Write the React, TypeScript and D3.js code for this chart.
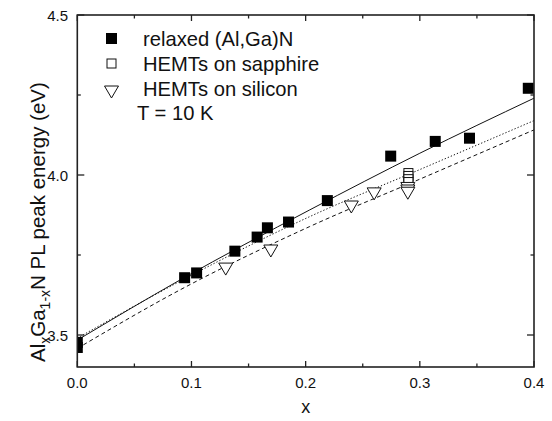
import React from "react";
import * as d3 from "d3";

const relaxedX = [0, 0, 0.094, 0.1045, 0.138, 0.1575, 0.1665, 0.185, 0.219, 0.2745, 0.3135, 0.3435, 0.395];
const relaxedE = [3.477, 3.461, 3.679, 3.694, 3.762, 3.806, 3.835, 3.853, 3.92, 4.059, 4.105, 4.115, 4.271];
const sapphireX = [0.29, 0.29, 0.29, 0.29];
const sapphireE = [4.006, 3.997, 3.987, 3.978];
const siliconX = [0.13, 0.1695, 0.24, 0.26, 0.2895, 0.2895, 0.2895];
const siliconE = [3.706, 3.7625, 3.9, 3.941, 3.958, 3.95, 3.943];

const fitX = [0, 0.09, 0.2036, 0.3, 0.4];
const fitSolid = [3.484, 3.672, 3.891, 4.068, 4.24];
const fitDotted = [3.49, 3.668, 3.87, 4.017, 4.17];
const fitDashed = [3.458, 3.641, 3.839, 3.987, 4.141];

const xMajor = [0, 0.1, 0.2, 0.3, 0.4];
const xMinor = [0.05, 0.15, 0.25, 0.35];
const yMajor = [3.5, 4.0, 4.5];
const yMinor = [3.75, 4.25];

const legendLabels = ["relaxed (Al,Ga)N", "HEMTs on sapphire", "HEMTs on silicon"];
const tempLabel = "T = 10 K";

export default function App() {
  const L = 77.3, R = 534, T = 15, B = 367;
  const x = d3.scaleLinear().domain([0, 0.4]).range([L, R]);
  const y = d3.scaleLinear().domain([3.4, 4.5]).range([B, T]);
  const line = d3
    .line<number>()
    .x((_, i) => x(fitX[i]))
    .y((d) => y(d))
    .curve(d3.curveMonotoneX);
  const font = "'Liberation Sans', Arial, sans-serif";
  const ink = "#111";
  const tri = (cx: number, cy: number) =>
    `M${cx - 7},${cy - 6}L${cx + 7},${cy - 6}L${cx},${cy + 6}Z`;
  const fmt = d3.format(".1f");

  return (
    <svg
      width={552}
      height={421}
      style={{ position: "absolute", left: 0, top: 0, background: "#fff" }}
      fontFamily={font}
    >
      <defs>
        <clipPath id="plot">
          <rect x={L} y={T} width={R - L} height={B - T} />
        </clipPath>
      </defs>
      <rect width={552} height={421} fill="#fff" />
      <g clipPath="url(#plot)">
        <path d={line(fitSolid) || ""} fill="none" stroke={ink} strokeWidth={1} />
        <path d={line(fitDotted) || ""} fill="none" stroke={ink} strokeWidth={1} strokeDasharray="1.3 2" />
        <path d={line(fitDashed) || ""} fill="none" stroke={ink} strokeWidth={1} strokeDasharray="4 3" />
        {relaxedX.map((v, i) => (
          <rect key={"r" + i} x={x(v) - 5.5} y={y(relaxedE[i]) - 5.5} width={11} height={11} fill="#000" />
        ))}
        {sapphireX.map((v, i) => (
          <rect key={"s" + i} x={x(v) - 4.5} y={y(sapphireE[i]) - 4.5} width={9} height={9} fill="#fff" stroke={ink} strokeWidth={1} />
        ))}
        {siliconX.map((v, i) => (
          <path key={"t" + i} d={tri(x(v), y(siliconE[i]))} fill="#fff" stroke={ink} strokeWidth={1} />
        ))}
      </g>
      <rect x={L} y={T} width={R - L} height={B - T} fill="none" stroke="#222" strokeWidth={1.6} />
      {xMajor.map((v) => (
        <g key={"xm" + v}>
          <line x1={x(v)} x2={x(v)} y1={B} y2={B - 6} stroke="#222" strokeWidth={1.3} />
          <line x1={x(v)} x2={x(v)} y1={T} y2={T + 6} stroke="#222" strokeWidth={1.3} />
          <text x={x(v)} y={388} textAnchor="middle" fontSize={15} fill={ink}>
            {fmt(v)}
          </text>
        </g>
      ))}
      {xMinor.map((v) => (
        <g key={"xn" + v}>
          <line x1={x(v)} x2={x(v)} y1={B} y2={B - 3.5} stroke="#222" strokeWidth={1.3} />
          <line x1={x(v)} x2={x(v)} y1={T} y2={T + 3.5} stroke="#222" strokeWidth={1.3} />
        </g>
      ))}
      {yMajor.map((v) => (
        <g key={"ym" + v}>
          <line x1={L} x2={L + 7} y1={y(v)} y2={y(v)} stroke="#222" strokeWidth={1.3} />
          <line x1={R} x2={R - 7} y1={y(v)} y2={y(v)} stroke="#222" strokeWidth={1.3} />
          <text x={68} y={y(v) + 5.5} textAnchor="end" fontSize={15} fill={ink}>
            {fmt(v)}
          </text>
        </g>
      ))}
      {yMinor.map((v) => (
        <g key={"yn" + v}>
          <line x1={L} x2={L + 3.5} y1={y(v)} y2={y(v)} stroke="#222" strokeWidth={1.3} />
          <line x1={R} x2={R - 3.5} y1={y(v)} y2={y(v)} stroke="#222" strokeWidth={1.3} />
        </g>
      ))}
      <text x={(L + R) / 2} y={413} textAnchor="middle" fontSize={18} fill={ink}>
        x
      </text>
      <text transform="translate(45,362) rotate(-90)" textAnchor="start" fontSize={20.5} fill={ink}>
        Al
        <tspan fontSize={14} dy={5}>x</tspan>
        <tspan dy={-5}>Ga</tspan>
        <tspan fontSize={14} dy={5}>1-x</tspan>
        <tspan dy={-5}>N PL peak energy (eV)</tspan>
      </text>
      <rect x={106} y={33} width={11} height={11} fill="#000" />
      <rect x={107} y={59} width={9} height={9} fill="#fff" stroke={ink} strokeWidth={1} />
      <path d={tri(111.5, 92)} fill="#fff" stroke={ink} strokeWidth={1} />
      {legendLabels.map((s, i) => (
        <text key={s} x={143} y={46 + i * 25} fontSize={20.2} fill={ink}>
          {s}
        </text>
      ))}
      <text x={137} y={119.5} fontSize={20.2} fill={ink}>
        {tempLabel}
      </text>
    </svg>
  );
}
